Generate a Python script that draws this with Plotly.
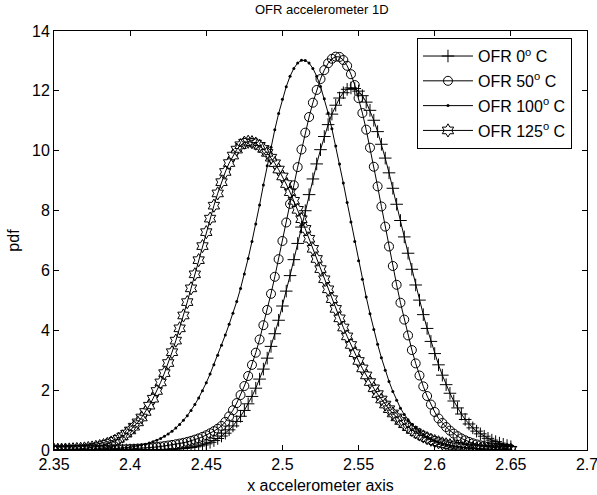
import plotly.graph_objects as go

# sample positions (x accelerometer axis), step 0.0025 from 2.35 to 2.65
x_vals = [round(2.35 + 0.0025 * i, 4) for i in range(121)]

pdf_0C = [
    0, 0, 0, 0, 0, 0, 0, 0, 0, 0,
    0, 0, 0, 0, 0, 0, 0, 0, 0, 0,
    0.001, 0.001, 0.002, 0.002, 0.003, 0.005, 0.006, 0.008, 0.011, 0.014,
    0.019, 0.024, 0.032, 0.041, 0.053, 0.067, 0.085, 0.107, 0.134, 0.168,
    0.208, 0.257, 0.315, 0.384, 0.466, 0.562, 0.674, 0.805, 0.955, 1.127,
    1.322, 1.543, 1.790, 2.065, 2.369, 2.703, 3.069, 3.462, 3.885, 4.335,
    4.811, 5.309, 5.827, 6.360, 6.902, 7.449, 7.995, 8.533, 9.057, 9.559,
    10.035, 10.474, 10.872, 11.223, 11.520, 11.760, 11.938, 12.052, 12.099, 12.078,
    11.991, 11.839, 11.623, 11.349, 11.018, 10.638, 10.215, 9.754, 9.261, 8.745,
    8.211, 7.668, 7.120, 6.575, 6.038, 5.514, 5.008, 4.523, 4.062, 3.628,
    3.222, 2.846, 2.500, 2.183, 1.896, 1.637, 1.406, 1.202, 1.020, 0.870,
    0.740, 0.630, 0.540, 0.460, 0.390, 0.330, 0.280, 0.230, 0.190, 0.150,
    0.110,
]

pdf_50C = [
    0, 0, 0, 0, 0, 0, 0, 0.001, 0.002, 0.003,
    0.004, 0.005, 0.007, 0.008, 0.010, 0.013, 0.015, 0.019, 0.023, 0.027,
    0.033, 0.039, 0.046, 0.054, 0.064, 0.075, 0.087, 0.100, 0.115, 0.132,
    0.150, 0.170, 0.191, 0.215, 0.241, 0.272, 0.306, 0.345, 0.389, 0.439,
    0.494, 0.558, 0.630, 0.711, 0.803, 0.940, 1.122, 1.329, 1.568, 1.836,
    2.137, 2.473, 2.844, 3.251, 3.692, 4.170, 4.680, 5.219, 5.787, 6.377,
    6.984, 7.602, 8.224, 8.845, 9.452, 10.041, 10.603, 11.126, 11.605, 12.030,
    12.395, 12.694, 12.921, 13.071, 13.143, 13.133, 13.030, 12.837, 12.556, 12.194,
    11.757, 11.258, 10.703, 10.101, 9.465, 8.808, 8.137, 7.464, 6.799, 6.148,
    5.520, 4.921, 4.357, 3.828, 3.340, 2.894, 2.489, 2.126, 1.804, 1.519,
    1.270, 1.055, 0.902, 0.767, 0.648, 0.548, 0.461, 0.387, 0.324, 0.271,
    0.225, 0.188, 0.156, 0.129, 0.107, 0.088, 0.073, 0.060, 0.049, 0.040,
    0.033,
]

pdf_100C = [
    0.002, 0.002, 0.003, 0.004, 0.004, 0.005, 0.006, 0.008, 0.009, 0.011,
    0.013, 0.016, 0.020, 0.025, 0.030, 0.036, 0.044, 0.054, 0.065, 0.079,
    0.095, 0.114, 0.137, 0.164, 0.196, 0.233, 0.277, 0.328, 0.388, 0.457,
    0.536, 0.628, 0.733, 0.853, 0.991, 1.145, 1.320, 1.517, 1.737, 1.981,
    2.250, 2.540, 2.850, 3.170, 3.500, 3.840, 4.200, 4.570, 4.960, 5.400,
    5.880, 6.400, 6.970, 7.550, 8.190, 8.853, 9.498, 10.118, 10.702, 11.240,
    11.723, 12.141, 12.487, 12.751, 12.930, 13.020, 13.018, 12.927, 12.750, 12.489,
    12.149, 11.739, 11.263, 10.734, 10.161, 9.552, 8.918, 8.270, 7.615, 6.966,
    6.327, 5.708, 5.116, 4.553, 4.024, 3.532, 3.079, 2.666, 2.292, 1.958,
    1.661, 1.399, 1.186, 1.011, 0.860, 0.728, 0.615, 0.518, 0.435, 0.364,
    0.304, 0.253, 0.210, 0.174, 0.144, 0.119, 0.098, 0.080, 0.066, 0.054,
    0.044, 0.036, 0.029, 0.024, 0.019, 0.016, 0.013, 0.010, 0.008, 0.007,
    0.005,
]

pdf_125C = [
    0.006, 0.008, 0.010, 0.014, 0.018, 0.024, 0.031, 0.040, 0.051, 0.065,
    0.083, 0.104, 0.131, 0.163, 0.203, 0.250, 0.306, 0.374, 0.453, 0.546,
    0.654, 0.779, 0.923, 1.086, 1.271, 1.480, 1.714, 1.972, 2.258, 2.569,
    2.906, 3.268, 3.655, 4.065, 4.495, 4.941, 5.401, 5.870, 6.343, 6.813,
    7.279, 7.731, 8.164, 8.573, 8.949, 9.290, 9.587, 9.838, 10.037, 10.183,
    10.270, 10.300, 10.285, 10.239, 10.164, 10.060, 9.927, 9.767, 9.581, 9.371,
    9.139, 8.886, 8.615, 8.327, 8.025, 7.712, 7.388, 7.058, 6.722, 6.383,
    6.044, 5.705, 5.369, 5.040, 4.715, 4.399, 4.092, 3.796, 3.510, 3.235,
    2.975, 2.726, 2.492, 2.270, 2.062, 1.868, 1.687, 1.519, 1.364, 1.221,
    1.090, 0.969, 0.860, 0.761, 0.671, 0.591, 0.518, 0.452, 0.395, 0.343,
    0.297, 0.257, 0.221, 0.190, 0.163, 0.139, 0.118, 0.100, 0.085, 0.072,
    0.060, 0.050, 0.042, 0.035, 0.029, 0.024, 0.020, 0.016, 0.013, 0.011,
    0.009,
]

series_names = ["OFR 0<sup>o</sup> C", "OFR 50<sup>o</sup> C",
                "OFR 100<sup>o</sup> C", "OFR 125<sup>o</sup> C"]

x_tick_vals = [2.35, 2.4, 2.45, 2.5, 2.55, 2.6, 2.65, 2.7]
x_tick_text = ["2.35", "2.4", "2.45", "2.5", "2.55", "2.6", "2.65", "2.7"]
y_tick_vals = [0, 2, 4, 6, 8, 10, 12, 14]

FONT = "Liberation Sans, Arial, Helvetica, sans-serif"

styles = [
    dict(symbol="cross-thin-open", size=9, line=dict(width=1, color="black")),
    dict(symbol="circle-open", size=9, line=dict(width=1, color="black")),
    dict(symbol="circle", size=3, color="black", line=dict(width=0)),
    dict(symbol="hexagram-open", size=10, line=dict(width=1, color="black")),
]

fig = go.Figure()
for name, ys, st in zip(series_names, [pdf_0C, pdf_50C, pdf_100C, pdf_125C], styles):
    m = dict(st)
    m.setdefault("color", "black")
    fig.add_trace(go.Scatter(
        x=x_vals, y=ys, name=name, mode="lines+markers",
        line=dict(color="black", width=1),
        marker=m, legendgroup=name,
    ))

axis_common = dict(
    showline=True, linecolor="black", linewidth=1, mirror="ticks",
    ticks="inside", ticklen=5, tickwidth=1, tickcolor="black",
    showgrid=False, zeroline=False, automargin=False,
    ticklabeloverflow="allow",
    tickfont=dict(family=FONT, size=16, color="black"),
)

fig.update_layout(
    width=597, height=495,
    margin=dict(l=54, r=10, t=31, b=45),
    paper_bgcolor="white", plot_bgcolor="white",
    font=dict(family=FONT, size=16, color="black"),
    title=dict(text="OFR accelerometer 1D", x=0.539, xanchor="center",
               y=0.98, yanchor="middle", yref="container",
               font=dict(family=FONT, size=13, color="black")),
    xaxis=dict(range=[2.35, 2.7], tickvals=x_tick_vals, ticktext=x_tick_text,
               title=dict(text="x accelerometer axis", standoff=7,
                          font=dict(family=FONT, size=16)),
               **axis_common),
    yaxis=dict(range=[0, 14], tickvals=y_tick_vals,
               title=dict(text="pdf", standoff=8,
                          font=dict(family=FONT, size=16)),
               **axis_common),
    showlegend=True,
    legend=dict(x=0.681, y=0.983, xanchor="left", yanchor="top",
                bgcolor="white", bordercolor="black", borderwidth=1,
                font=dict(family=FONT, size=16, color="black"),
                itemwidth=50, traceorder="grouped", tracegroupgap=1),
)

fig.write_html("out.html")
